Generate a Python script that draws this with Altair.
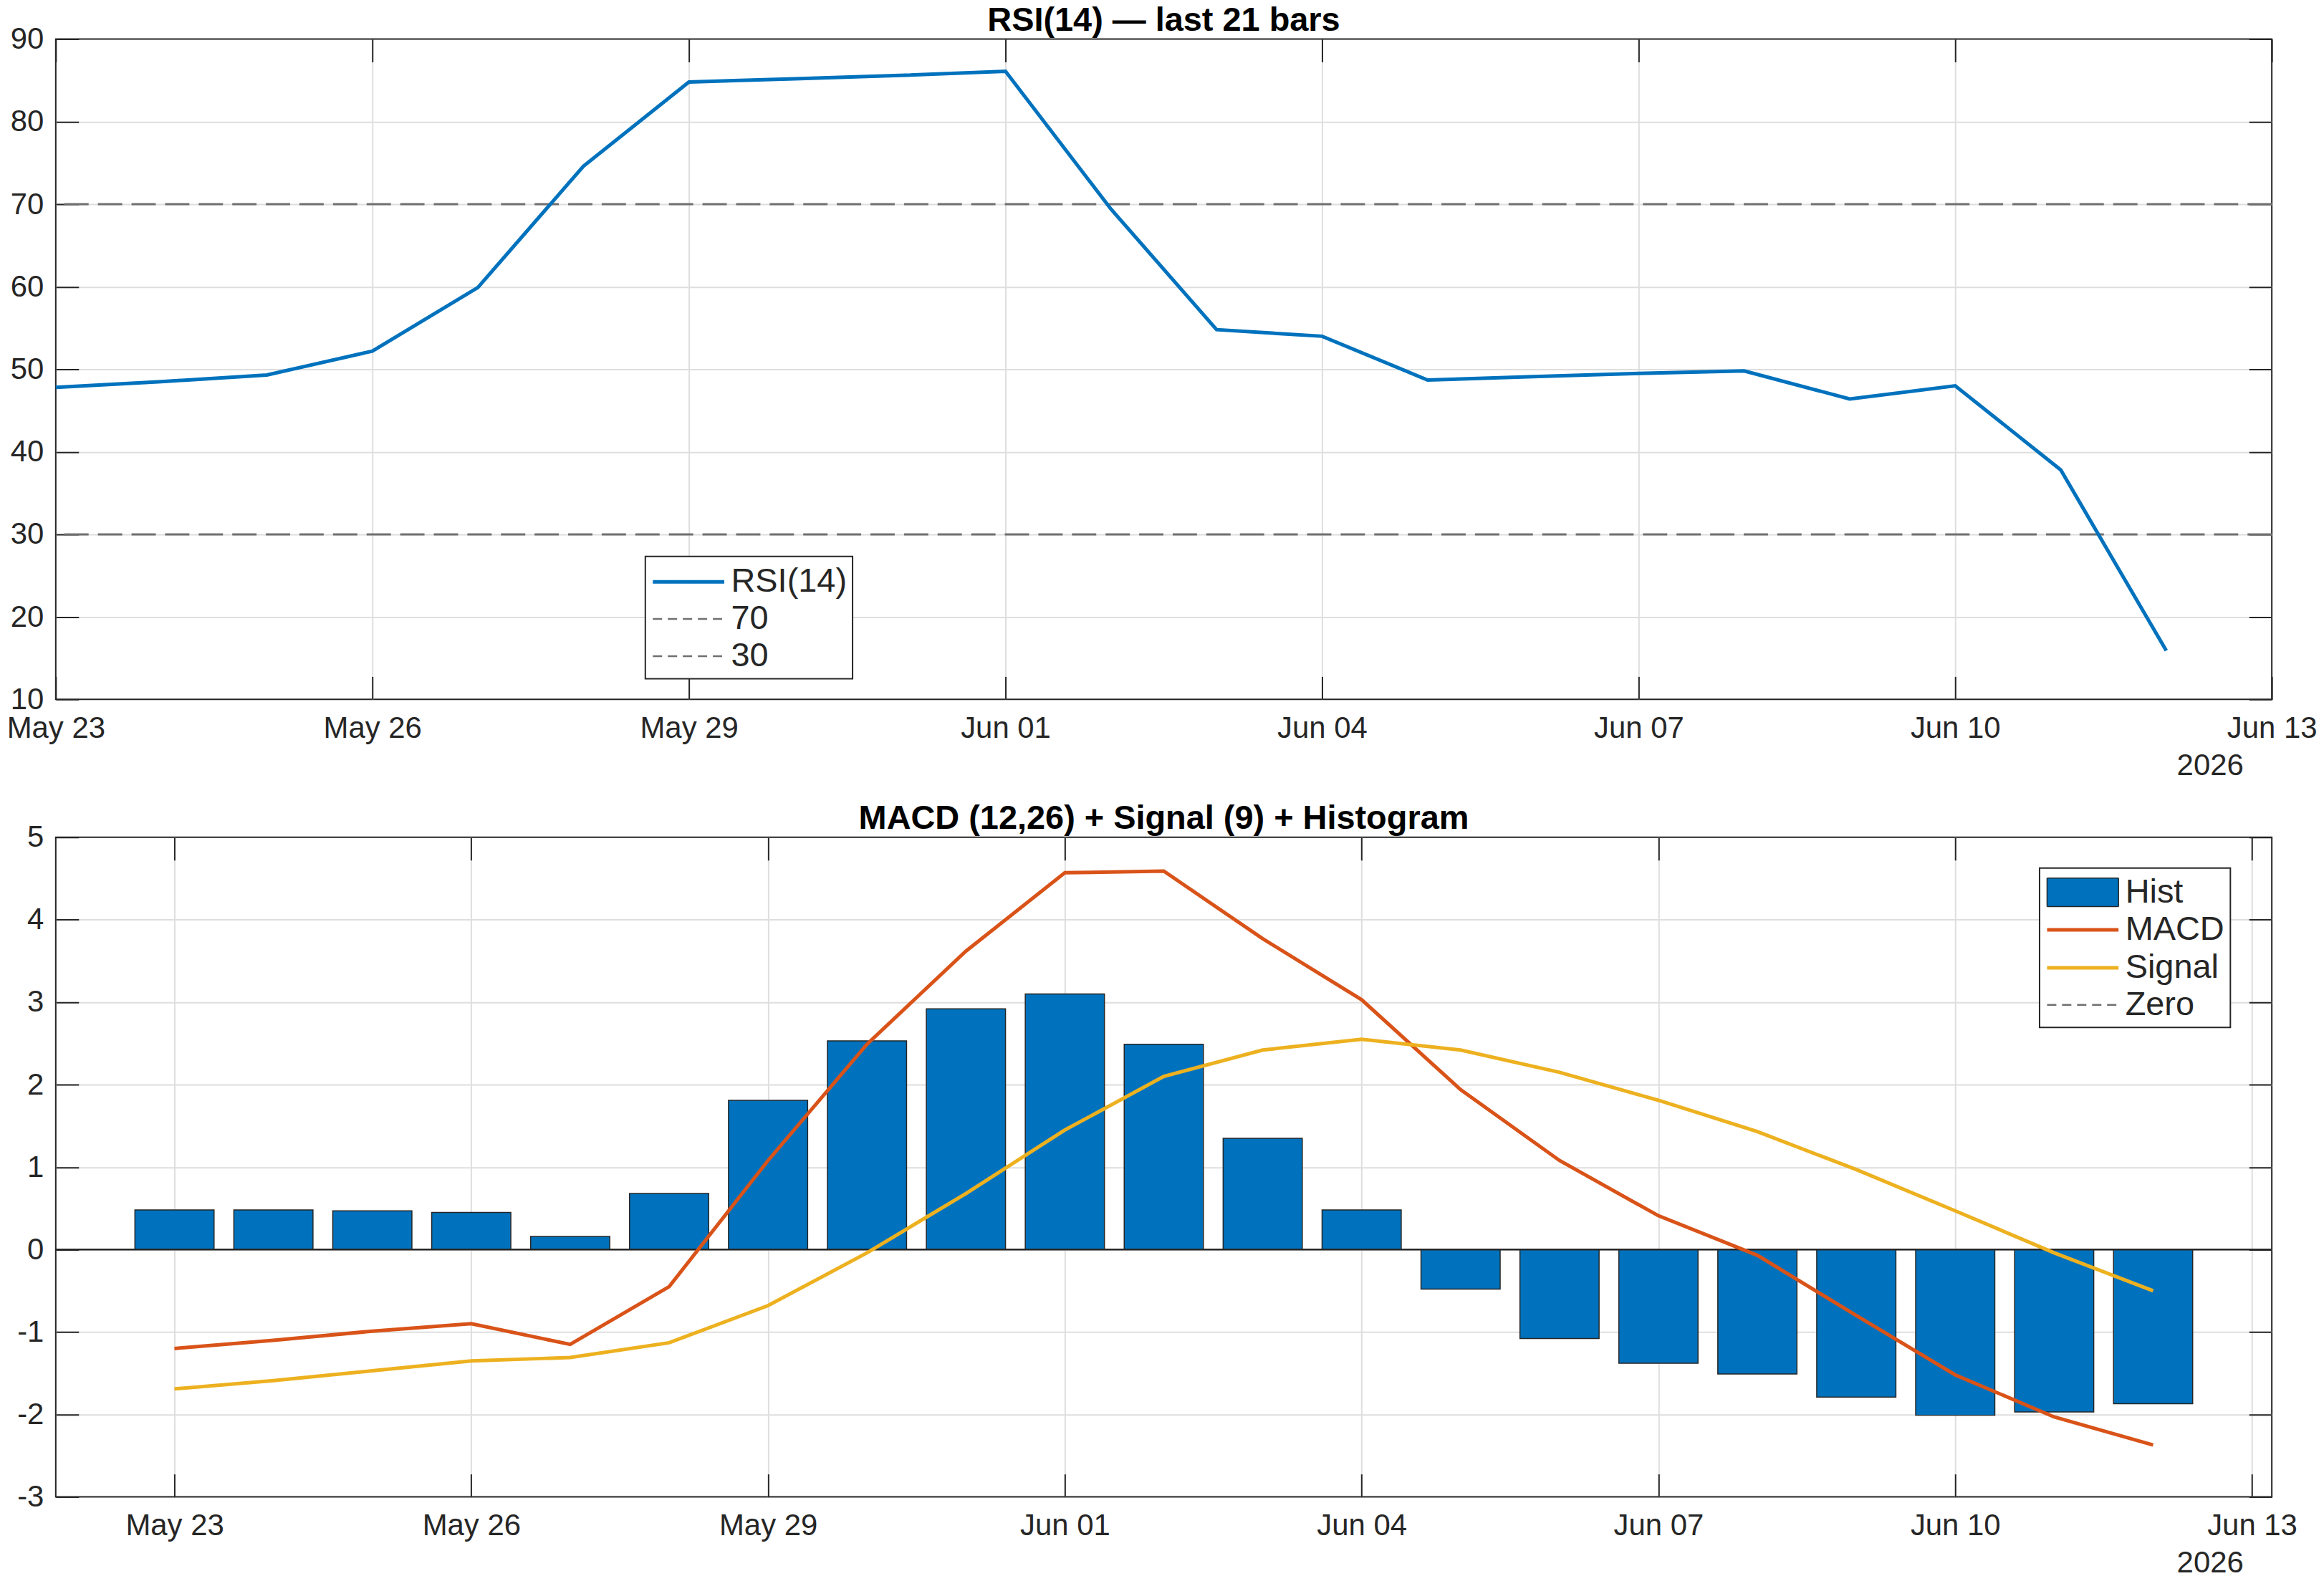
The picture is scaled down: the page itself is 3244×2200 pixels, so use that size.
import altair as alt
import pandas as pd

# ---------------- data ----------------
DATES = ["2026-05-23", "2026-05-24", "2026-05-25", "2026-05-26", "2026-05-27",
         "2026-05-28", "2026-05-29", "2026-05-30", "2026-05-31", "2026-06-01",
         "2026-06-02", "2026-06-03", "2026-06-04", "2026-06-05", "2026-06-06",
         "2026-06-07", "2026-06-08", "2026-06-09", "2026-06-10", "2026-06-11",
         "2026-06-12"]
RSI = [47.8, 48.5, 49.3, 52.2, 59.9, 74.6, 84.8, 85.2, 85.6, 86.1, 69.4,
       54.8, 54.0, 48.7, 49.1, 49.5, 49.8, 46.4, 48.0, 37.8, 15.9]
RSI_LEVELS = [70, 30]
HIST = [0.48, 0.48, 0.47, 0.45, 0.16, 0.68, 1.81, 2.53, 2.92, 3.10, 2.49,
        1.35, 0.48, -0.48, -1.08, -1.38, -1.51, -1.79, -2.01, -1.97, -1.87]
MACD = [-1.20, -1.10, -0.99, -0.90, -1.15, -0.45, 1.08, 2.49, 3.62, 4.57, 4.59,
        3.77, 3.03, 1.94, 1.08, 0.41, -0.07, -0.80, -1.52, -2.03, -2.37]
SIGNAL = [-1.69, -1.59, -1.47, -1.35, -1.31, -1.13, -0.68, -0.04, 0.68, 1.45, 2.10,
          2.42, 2.55, 2.42, 2.15, 1.81, 1.43, 0.97, 0.47, -0.04, -0.50]
ZERO_LEVEL = 0

TOP_SERIES = ["RSI(14)", "70", "30"]
BOTTOM_SERIES = ["Hist", "MACD", "Signal", "Zero"]

DATE_TICKS = ["2026-05-23", "2026-05-26", "2026-05-29", "2026-06-01",
              "2026-06-04", "2026-06-07", "2026-06-10", "2026-06-13"]
RSI_TICKS = [10, 20, 30, 40, 50, 60, 70, 80, 90]
MACD_TICKS = [-3, -2, -1, 0, 1, 2, 3, 4, 5]
TOP_X_RANGE = ["2026-05-23T00:00", "2026-06-13T00:00"]
BOTTOM_X_RANGE = ["2026-05-21T19:12", "2026-06-13T04:48"]
YEAR_LABEL = "2026"

# ---------------- style ----------------
FONT = "Liberation Sans"
INK = "#262626"
BLUE, ORANGE, YELLOW = "#0072BD", "#D95319", "#EDB120"
GREY = "#707070"
W = 3101
H_TOP, H_BOT = 924, 923
PLOT_DASH = [34, 13]
LEGEND_DASH = [13, 8]
# legend symbols drawn at symbolSize 2500 (unit = 25 px): 100 px long
LINE_SYMBOL = "M-2,0H2"
HIST_SYMBOL = "M-2,-0.8H2V0.8H-2Z"
EDGE_TEST = "datum.index == 0 || datum.index == 1"


def dt(s):
    d, _, t = s.partition("T")
    y, m, dd = (int(v) for v in d.split("-"))
    hh, mm = (int(v) for v in t.split(":")) if t else (0, 0)
    return alt.DateTime(year=y, month=m, date=dd, hours=hh, minutes=mm)


def hide_at(test):
    return {"condition": {"test": test, "value": 0}, "value": 1}


def main_x_axis(title_y, grid_test=None):
    kw = dict(orient="bottom", values=[dt(s) for s in DATE_TICKS], format="%b %d",
              labelFlush=False, labelOverlap=False, labelPadding=20,
              tickSize=32, offset=-32, grid=True, domain=False,
              title=YEAR_LABEL, titleX=W - 40, titleY=title_y,
              titleAlign="right", titleBaseline="top", titleFontSize=42,
              titleFontWeight="normal", titleColor=INK, titleFont=FONT)
    if grid_test:
        kw["gridOpacity"] = hide_at(grid_test)
    return alt.Axis(**kw)


def main_y_axis(ticks):
    return alt.Axis(orient="left", values=ticks, labelPadding=17, tickSize=32,
                    offset=-32, grid=True, domain=False, title=None,
                    labelExpr="'' + datum.value", gridOpacity=hide_at(EDGE_TEST))


def tick_x_axis():
    return alt.Axis(orient="top", values=[dt(s) for s in DATE_TICKS], labels=False,
                    grid=False, domain=False, tickSize=32, offset=-32, title=None)


def tick_y_axis(ticks):
    return alt.Axis(orient="right", values=ticks, labels=False, grid=False,
                    domain=False, tickSize=32, offset=-32, title=None)


def legend(x, y, **extra):
    return alt.Legend(title=None, orient="none", legendX=x, legendY=y,
                      symbolSize=2500, symbolOffset=25, labelOffset=32,
                      labelFontSize=47, labelFont=FONT, labelColor=INK,
                      rowPadding=2, padding=8, strokeColor=INK, fillColor="white",
                      labelLimit=0, symbolOpacity=1, **extra)


days = [d + "T00:00:00" for d in DATES]

# ---------------- top panel: RSI ----------------
tx = alt.Scale(domain=[dt(s) for s in TOP_X_RANGE], nice=False)
ty = alt.Scale(domain=[RSI_TICKS[0], RSI_TICKS[-1]], nice=False, zero=False)

rsi_df = pd.DataFrame({"date": days, "rsi": RSI})
rsi_line = alt.Chart(rsi_df).mark_line(color=BLUE, strokeWidth=5).encode(
    x=alt.X("date:T", scale=tx, axis=main_x_axis(104, EDGE_TEST)),
    y=alt.Y("rsi:Q", scale=ty, axis=main_y_axis(RSI_TICKS)),
)
levels = alt.Chart(pd.DataFrame({"level": RSI_LEVELS})).mark_rule(
    color=GREY, strokeWidth=3, strokeDash=PLOT_DASH
).encode(y=alt.Y("level:Q", scale=ty, axis=None))

top_leg = legend(825, 724, symbolType=LINE_SYMBOL)
top_legend_layer = alt.Chart(pd.DataFrame({"series": TOP_SERIES})).transform_filter(
    "false"
).mark_point(opacity=1, filled=False).encode(
    x=alt.X("date:T", scale=tx, axis=tick_x_axis()),
    y=alt.Y("value:Q", scale=ty, axis=tick_y_axis(RSI_TICKS)),
    stroke=alt.Stroke("series:N", scale=alt.Scale(domain=TOP_SERIES, range=[BLUE, GREY, GREY]), legend=top_leg),
    strokeDash=alt.StrokeDash("series:N", scale=alt.Scale(domain=TOP_SERIES, range=[[1, 0], LEGEND_DASH, LEGEND_DASH]), legend=top_leg),
    strokeWidth=alt.StrokeWidth("series:N", scale=alt.Scale(type="ordinal", domain=TOP_SERIES, range=[5, 2.5, 2.5]), legend=top_leg),
)

top = alt.layer(levels, rsi_line, top_legend_layer).properties(
    width=W, height=H_TOP, title="RSI(14) — last 21 bars"
)

# ---------------- bottom panel: MACD ----------------
bx = alt.Scale(domain=[dt(s) for s in BOTTOM_X_RANGE], nice=False)
by = alt.Scale(domain=[MACD_TICKS[0], MACD_TICKS[-1]], nice=False, zero=False)

hist_df = pd.DataFrame({"date": days, "hist": HIST})
bars = alt.Chart(hist_df).transform_calculate(
    x0="toDate(datum.date) - 0.4 * 86400000",
    x1="toDate(datum.date) + 0.4 * 86400000",
).mark_bar(color=BLUE, stroke=INK, strokeWidth=1.5).encode(
    x=alt.X("x0:T", scale=bx, axis=main_x_axis(104)),
    x2="x1:T",
    y=alt.Y("hist:Q", scale=by, axis=main_y_axis(MACD_TICKS)),
    y2=alt.datum(ZERO_LEVEL),
)
baseline = alt.Chart(pd.DataFrame({"zero": [ZERO_LEVEL]})).mark_rule(
    color=INK, strokeWidth=2.5
).encode(y=alt.Y("zero:Q", scale=by, axis=None))

macd_df = pd.DataFrame({"date": days, "macd": MACD, "signal": SIGNAL})
macd_line = alt.Chart(macd_df).mark_line(color=ORANGE, strokeWidth=5).encode(
    x=alt.X("date:T", scale=bx, axis=None),
    y=alt.Y("macd:Q", scale=by, axis=None),
)
signal_line = alt.Chart(macd_df).mark_line(color=YELLOW, strokeWidth=5).encode(
    x=alt.X("date:T", scale=bx, axis=None),
    y=alt.Y("signal:Q", scale=by, axis=None),
)

bot_leg = legend(2776, 43)
bot_legend_layer = alt.Chart(pd.DataFrame({"series": BOTTOM_SERIES})).transform_filter(
    "false"
).mark_point(opacity=1, filled=False).encode(
    x=alt.X("date:T", scale=bx, axis=tick_x_axis()),
    y=alt.Y("value:Q", scale=by, axis=tick_y_axis(MACD_TICKS)),
    fill=alt.Fill("series:N", scale=alt.Scale(domain=BOTTOM_SERIES, range=[BLUE, "transparent", "transparent", "transparent"]), legend=bot_leg),
    stroke=alt.Stroke("series:N", scale=alt.Scale(domain=BOTTOM_SERIES, range=[INK, ORANGE, YELLOW, GREY]), legend=bot_leg),
    strokeDash=alt.StrokeDash("series:N", scale=alt.Scale(domain=BOTTOM_SERIES, range=[[1, 0], [1, 0], [1, 0], LEGEND_DASH]), legend=bot_leg),
    strokeWidth=alt.StrokeWidth("series:N", scale=alt.Scale(type="ordinal", domain=BOTTOM_SERIES, range=[1.5, 5, 5, 2.5]), legend=bot_leg),
    shape=alt.Shape("series:N", scale=alt.Scale(domain=BOTTOM_SERIES, range=[HIST_SYMBOL, LINE_SYMBOL, LINE_SYMBOL, LINE_SYMBOL]), legend=bot_leg),
)

bottom = alt.layer(bars, baseline, macd_line, signal_line, bot_legend_layer).properties(
    width=W, height=H_BOT, title="MACD (12,26) + Signal (9) + Histogram"
)

chart = alt.vconcat(
    top, bottom, spacing=193, bounds="flush",
    padding={"top": -7, "left": 0, "right": 0, "bottom": 0},
).resolve_scale(
    stroke="independent", strokeDash="independent", strokeWidth="independent",
    fill="independent", shape="independent",
).resolve_legend(
    stroke="independent", strokeDash="independent", strokeWidth="independent",
    fill="independent", shape="independent",
).configure(
    font=FONT
).configure_view(
    stroke=INK, strokeWidth=2
).configure_axis(
    labelFont=FONT, labelFontSize=42, labelColor=INK, tickColor=INK, tickWidth=2,
    gridColor="#dedede", gridWidth=2
).configure_title(
    font=FONT, fontSize=47, fontWeight="bold", color="#000000", anchor="middle",
    frame="group", offset=-19
).configure_legend(
    strokeWidth=2
)

chart.save("out.html", embed_options={"renderer": "svg", "actions": False})
